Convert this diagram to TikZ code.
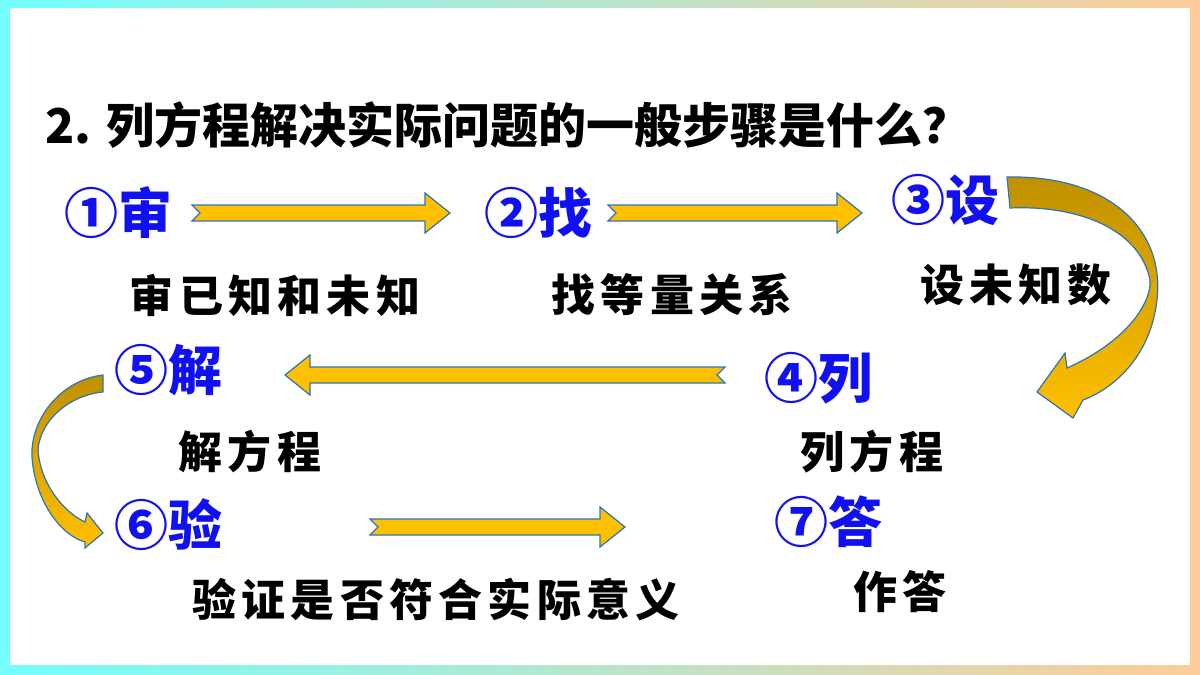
\documentclass[tikz,border=0pt]{standalone}
\usepackage{fontspec}
\setmainfont{Noto Sans CJK SC}
\newfontfamily\descfont[LetterSpace=12]{Noto Sans CJK SC}
\usetikzlibrary{positioning}
\definecolor{stepblue}{HTML}{1010F0}
\definecolor{arrowfill}{HTML}{FFC000}
\definecolor{arrowline}{HTML}{2E75B6}
\tikzset{
  steplabel/.style={text=stepblue,font=\bfseries\fontsize{27}{30}\selectfont,inner sep=0pt},
  desclabel/.style={font=\descfont\bfseries\fontsize{22}{24}\selectfont,inner sep=0pt},
  blockarrow/.style={fill=arrowfill,draw=arrowline,line width=0.6pt},
}
% block arrow: tail x, tip x, y
\newcommand\flowarrow[3]{%
  \pgfmathsetmacro\dirsign{(#2>#1)?1:-1}
  \draw[blockarrow] (#1,#3-8) -- (#2-\dirsign*25,#3-8) -- (#2-\dirsign*25,#3-20) -- (#2,#3)
    -- (#2-\dirsign*25,#3+20) -- (#2-\dirsign*25,#3+8) -- (#1,#3+8) -- (#1+\dirsign*8,#3) -- cycle;}
\begin{document}
\begin{tikzpicture}[x=0.5pt,y=-0.5pt]
	\useasboundingbox (0,0) rectangle (1200,675);
	\shade[left color=cyan!55,right color=orange!40] (0,0) rectangle (1200,675);
	\fill[white] (10,8) rectangle (1190,665);
	% title
	\node[anchor=west,inner sep=0pt,font=\bfseries\fontsize{24}{28}\selectfont] (title) at (45,125) {2. 列方程解决实际问题的一般步骤是什么？};
	% steps
	\node[steplabel] (shen) at (118,213) {①审};
	\node[steplabel] (zhao) at (538,213) {②找};
	\node[steplabel] (she) at (945,200) {③设};
	\node[steplabel] (lie) at (818,378) {④列};
	\node[steplabel] (jie) at (168,370) {⑤解};
	\node[steplabel] (yan) at (168,525) {⑥验};
	\node[steplabel] (da) at (828,522) {⑦答};
	% descriptions
	\node[desclabel] (shen text) at (275,295) {审已知和未知};
	\node[desclabel] (zhao text) at (672,295) {找等量关系};
	\node[desclabel] (she text) at (1016,285) {设未知数};
	\node[desclabel] (jie text) at (250,452) {解方程};
	\node[desclabel] (lie text) at (872,452) {列方程};
	\node[desclabel] (yan text) at (436,600) {验证是否符合实际意义};
	\node[desclabel] (da text) at (900,592) {作答};
	% straight arrows
	\flowarrow{192}{450}{213}
	\flowarrow{608}{862}{213}
	\flowarrow{725}{285}{375}
	\flowarrow{370}{625}{527}
	% curved arrows
	\shade[top color=arrowfill!75!black,bottom color=arrowfill,draw=arrowline,line width=0.6pt]
		(1007,177) .. controls (1110,175) and (1165,230) .. (1157,300)
		.. controls (1150,360) and (1110,390) .. (1083,400) -- (1073,418) -- (1037,392) -- (1065,353) -- (1067,368)
		.. controls (1130,340) and (1152,300) .. (1150,280)
		.. controls (1140,230) and (1080,205) .. (1010,208) -- cycle;
	\shade[top color=arrowfill!75!black,bottom color=arrowfill,draw=arrowline,line width=0.6pt]
		(103,375) .. controls (60,380) and (30,420) .. (32,457)
		.. controls (35,500) and (60,535) .. (85,542) -- (85,548) -- (103,533) -- (87,513) -- (85,522)
		.. controls (60,510) and (40,480) .. (38,450)
		.. controls (40,420) and (70,395) .. (103,392) -- cycle;
\end{tikzpicture}
\end{document}
